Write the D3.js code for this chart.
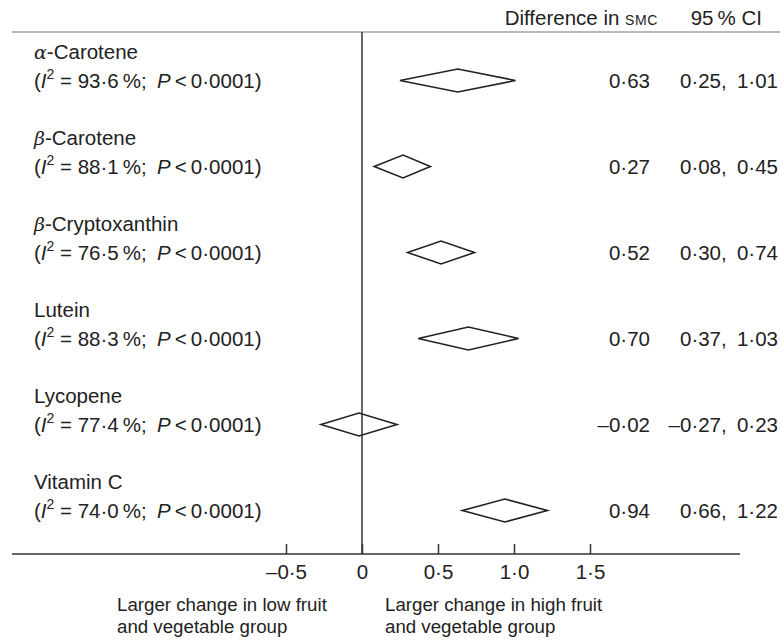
<!DOCTYPE html>
<html>
<head>
<meta charset="utf-8">
<script src="https://cdn.jsdelivr.net/npm/d3@7"></script>
<style>
  body { margin: 0; background: #fff; }
  svg text { font-family: "Liberation Sans", Arial, sans-serif; fill: #222; }
</style>
</head>
<body>
<div id="output"></div>
<script>
const names = ['\u03b1-Carotene', '\u03b2-Carotene', '\u03b2-Cryptoxanthin', 'Lutein', 'Lycopene', 'Vitamin C'];
const greekPrefix = [true, true, true, false, false, false];
const i2 = [93.6, 88.1, 76.5, 88.3, 77.4, 74.0];
const pText = ['0\u00b70001', '0\u00b70001', '0\u00b70001', '0\u00b70001', '0\u00b70001', '0\u00b70001'];
const est = [0.63, 0.27, 0.52, 0.70, -0.02, 0.94];
const lo = [0.25, 0.08, 0.30, 0.37, -0.27, 0.66];
const hi = [1.01, 0.45, 0.74, 1.03, 0.23, 1.22];
const ticks = [-0.5, 0, 0.5, 1.0, 1.5];
const footLeft = ['Larger change in low fruit', 'and vegetable group'];
const footRight = ['Larger change in high fruit', 'and vegetable group'];

const W = 783, H = 642, FS = 20.5, FS_FOOT = 18.7;
const fmt = v => {
  const s = Math.abs(v) < 1e-9 ? '0' : d3.format('.2f')(Math.abs(v)).replace('.', '\u00b7');
  return (v < -1e-9 ? '\u2013' : '') + s;
};
const fmtTick = v => {
  if (v === 0) return '0';
  return (v < 0 ? '\u2013' : '') + d3.format('.1f')(Math.abs(v)).replace('.', '\u00b7');
};

const svg = d3.select('#output').append('svg')
  .attr('width', W).attr('height', H);

const x = d3.scaleLinear().domain([0, 1]).range([362, 514]);
const y = d3.scalePoint().domain(d3.range(names.length)).range([80.5, 510.5]);

const topY = 32, axisY = 554, labelX = 34;

// header
const hdr = svg.append('text').attr('x', 658).attr('y', 25)
  .attr('text-anchor', 'end').style('font-size', FS + 'px');
hdr.append('tspan').text('Difference in ');
hdr.append('tspan').style('font-size', '14px').style('letter-spacing', '0.6px').text('SMC');
svg.append('text').attr('x', 762).attr('y', 25).attr('text-anchor', 'end')
  .style('font-size', FS + 'px').text('95\u2009% CI');

// frame lines
svg.append('line').attr('x1', 12).attr('x2', 780).attr('y1', topY).attr('y2', topY)
  .attr('stroke', '#777').attr('stroke-width', 1.2);
svg.append('line').attr('x1', 12).attr('x2', 740).attr('y1', axisY).attr('y2', axisY)
  .attr('stroke', '#333').attr('stroke-width', 1.5);
svg.append('line').attr('x1', x(0)).attr('x2', x(0)).attr('y1', topY).attr('y2', axisY)
  .attr('stroke', '#333').attr('stroke-width', 1.5);

// axis
const axis = svg.append('g').attr('transform', `translate(0,${axisY})`)
  .call(d3.axisBottom(x).tickValues(ticks).tickFormat(fmtTick)
    .tickSizeInner(-10).tickSizeOuter(0).tickPadding(25));
axis.select('.domain').remove();
axis.selectAll('.tick line').attr('stroke', '#333').attr('stroke-width', 1.5);
axis.selectAll('.tick text').attr('dy', 0).attr('y', 25)
  .style('font-size', FS + 'px').style('font-family', '"Liberation Sans", Arial, sans-serif')
  .attr('fill', '#222');

// rows
const rows = svg.selectAll('.row').data(names.map((n, i) => i)).join('g')
  .attr('class', 'row');

rows.append('text').attr('x', labelX).attr('y', i => y(i) - 22)
  .style('font-size', FS + 'px')
  .each(function (i) {
    const t = d3.select(this);
    if (greekPrefix[i]) {
      t.append('tspan').style('font-family', '"DejaVu Serif", serif').style('font-style', 'italic')
        .style('font-size', (FS - 1.5) + 'px').text(names[i][0]);
      t.append('tspan').text(names[i].slice(1));
    } else {
      t.text(names[i]);
    }
  });

rows.append('text').attr('x', labelX).attr('y', i => y(i) + 7.5)
  .style('font-size', FS + 'px')
  .each(function (i) {
    const t = d3.select(this);
    t.append('tspan').text('(');
    t.append('tspan').style('font-style', 'italic').text('I');
    t.append('tspan').attr('dy', -9).style('font-size', '14px').text('2');
    t.append('tspan').attr('dy', 9).text(' = ' + d3.format('.1f')(i2[i]).replace('.', '\u00b7') + '\u2009%;\u2002');
    t.append('tspan').style('font-style', 'italic').text('P');
    t.append('tspan').text('\u2009<\u2009' + pText[i] + ')');
  });

rows.append('path')
  .attr('d', i => {
    const c = y(i), h = 11.5;
    return `M${x(lo[i])},${c}L${x(est[i])},${c - h}L${x(hi[i])},${c}L${x(est[i])},${c + h}Z`;
  })
  .attr('fill', 'none').attr('stroke', '#222').attr('stroke-width', 1.6)
  .attr('stroke-linejoin', 'miter');

rows.append('text').attr('x', 650).attr('y', i => y(i) + 7.5)
  .attr('text-anchor', 'end').style('font-size', FS + 'px')
  .text(i => fmt(est[i]));

rows.append('text').attr('x', 778).attr('y', i => y(i) + 7.5)
  .attr('text-anchor', 'end').style('font-size', FS + 'px')
  .text(i => fmt(lo[i]) + ',\u2002' + fmt(hi[i]));

// footer
[footLeft, footRight].forEach((lines, k) => {
  const tx = k === 0 ? 117 : 385;
  lines.forEach((l, j) => {
    svg.append('text').attr('x', tx).attr('y', 611 + j * 21.5)
      .style('font-size', FS_FOOT + 'px').text(l);
  });
});
</script>
</body>
</html>
